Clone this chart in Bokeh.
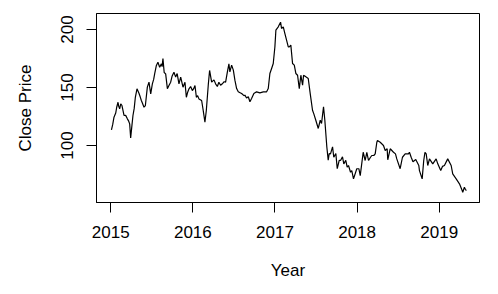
from bokeh.plotting import figure
from bokeh.models import Range1d, FixedTicker
from bokeh.embed import file_html
from bokeh.resources import INLINE

# decimal year and close price
year = [
    2015.009, 2015.024, 2015.040, 2015.061, 2015.073, 2015.089, 2015.097, 2015.109, 2015.122, 2015.137,
    2015.150, 2015.162, 2015.182, 2015.203, 2015.219, 2015.231, 2015.243, 2015.255, 2015.271, 2015.286,
    2015.300, 2015.320, 2015.344, 2015.359, 2015.373, 2015.389, 2015.405, 2015.422, 2015.446, 2015.466,
    2015.487, 2015.507, 2015.523, 2015.535, 2015.556, 2015.575, 2015.596, 2015.617, 2015.626, 2015.636,
    2015.651, 2015.669, 2015.690, 2015.709, 2015.730, 2015.748, 2015.770, 2015.791, 2015.809, 2015.831,
    2015.852, 2015.880, 2015.904, 2015.921, 2015.937, 2015.953, 2015.973, 2015.994, 2016.010, 2016.026,
    2016.043, 2016.058, 2016.074, 2016.107, 2016.123, 2016.135, 2016.147, 2016.164, 2016.189, 2016.204,
    2016.229, 2016.257, 2016.277, 2016.298, 2016.317, 2016.338, 2016.359, 2016.381, 2016.399, 2016.420,
    2016.439, 2016.451, 2016.472, 2016.493, 2016.512, 2016.533, 2016.553, 2016.575, 2016.594, 2016.622,
    2016.634, 2016.654, 2016.675, 2016.695, 2016.715, 2016.743, 2016.776, 2016.816, 2016.858, 2016.898,
    2016.918, 2016.938, 2016.959, 2016.979, 2016.999, 2017.011, 2017.040, 2017.060, 2017.068, 2017.080,
    2017.101, 2017.120, 2017.141, 2017.162, 2017.174, 2017.193, 2017.214, 2017.235, 2017.254, 2017.275,
    2017.296, 2017.315, 2017.336, 2017.348, 2017.376, 2017.405, 2017.429, 2017.457, 2017.473, 2017.497,
    2017.527, 2017.551, 2017.567, 2017.591, 2017.607, 2017.631, 2017.648, 2017.660, 2017.676, 2017.701,
    2017.716, 2017.741, 2017.758, 2017.782, 2017.798, 2017.822, 2017.838, 2017.862, 2017.879, 2017.895,
    2017.920, 2017.935, 2017.956, 2017.996, 2018.021, 2018.038, 2018.074, 2018.098, 2018.118, 2018.139,
    2018.163, 2018.179, 2018.203, 2018.220, 2018.240, 2018.248, 2018.281, 2018.321, 2018.342, 2018.366,
    2018.373, 2018.403, 2018.443, 2018.467, 2018.483, 2018.524, 2018.552, 2018.585, 2018.625, 2018.637,
    2018.658, 2018.680, 2018.714, 2018.751, 2018.759, 2018.792, 2018.811, 2018.826, 2018.841, 2018.860,
    2018.881, 2018.921, 2018.962, 2018.982, 2019.018, 2019.039, 2019.063, 2019.103, 2019.145, 2019.164,
    2019.206, 2019.246, 2019.279, 2019.286, 2019.306, 2019.319, 2019.331,
]
close = [
    113.5, 118.0, 124.4, 128.0, 133.0, 137.3, 134.0, 131.6, 136.0, 134.5,
    130.0, 125.9, 126.0, 123.0, 121.0, 118.7, 106.6, 115.0, 125.9, 132.0,
    141.6, 148.9, 145.1, 142.0, 138.8, 136.0, 133.0, 134.5, 150.3, 154.6,
    144.6, 153.2, 157.0, 161.8, 169.0, 171.8, 167.5, 170.4, 168.0, 175.0,
    163.0, 161.8, 149.0, 151.7, 154.6, 160.0, 163.2, 159.0, 162.0, 153.2,
    159.0, 150.3, 154.6, 141.6, 146.0, 148.9, 150.9, 147.4, 149.0, 151.7,
    141.6, 143.0, 140.2, 138.8, 131.7, 126.0, 120.1, 130.2, 153.2, 164.7,
    154.6, 156.6, 153.2, 150.9, 154.6, 152.0, 153.2, 155.0, 154.6, 163.2,
    170.4, 163.5, 169.3, 165.0, 156.3, 149.1, 146.3, 145.5, 144.8, 143.0,
    143.4, 141.0, 142.0, 137.7, 140.5, 144.8, 146.3, 145.4, 146.3, 146.3,
    149.1, 162.1, 166.4, 170.7, 185.1, 199.4, 202.3, 205.2, 206.3, 200.9,
    202.3, 196.6, 190.8, 185.1, 185.1, 186.5, 170.7, 169.3, 162.1, 160.6,
    149.1, 160.6, 152.0, 160.6, 159.2, 157.8, 144.8, 130.4, 127.3, 121.8,
    114.7, 121.8, 119.0, 133.4, 121.8, 98.9, 87.3, 93.1, 92.8, 98.9,
    89.9, 93.1, 80.0, 87.3, 87.1, 90.2, 84.2, 87.3, 81.3, 82.8,
    77.0, 78.4, 71.3, 80.0, 80.0, 74.1, 94.2, 87.1, 94.2, 87.1,
    89.9, 91.4, 91.4, 92.8, 102.8, 104.3, 102.8, 100.0, 95.7, 97.2,
    87.7, 97.2, 94.2, 92.8, 88.5, 80.0, 89.9, 92.8, 92.8, 94.2,
    89.9, 86.0, 88.0, 82.8, 78.4, 71.3, 87.1, 94.2, 92.8, 82.8,
    88.5, 84.2, 88.5, 84.2, 78.4, 82.0, 82.8, 88.5, 82.8, 75.6,
    71.3, 67.0, 61.2, 59.7, 64.0, 62.0, 61.2,
]
x_ticks = [2015, 2016, 2017, 2018, 2019]
y_ticks = [100, 150, 200]

FONT = "Liberation Sans"

p = figure(width=490, height=286, output_backend="svg", toolbar_location=None,
           x_range=Range1d(2014.827, 2019.49), y_range=Range1d(50.9, 213.8),
           min_border_left=96, min_border_right=11, min_border_top=13, min_border_bottom=84)
p.background_fill_color = "white"
p.border_fill_color = "white"
p.outline_line_color = "black"
p.outline_line_alpha = 1.0
p.outline_line_width = 1
p.xgrid.visible = False
p.ygrid.visible = False

p.line(year, close, line_color="black", line_width=1.2)

for ax in (p.xaxis[0], p.yaxis[0]):
    ax.axis_line_color = "black"
    ax.major_tick_line_color = "black"
    ax.major_tick_out = 10
    ax.major_tick_in = 0
    ax.minor_tick_line_color = None
    ax.major_label_text_font = FONT
    ax.major_label_text_font_size = "17px"
    ax.major_label_text_color = "black"
    ax.axis_label_text_font = FONT
    ax.axis_label_text_font_size = "17px"
    ax.axis_label_text_font_style = "normal"
    ax.axis_label_text_color = "black"
    ax.major_label_standoff = 13

p.xaxis.ticker = FixedTicker(ticks=x_ticks)
p.yaxis.ticker = FixedTicker(ticks=y_ticks)
p.xaxis.axis_label = "Year"
p.yaxis.axis_label = "Close Price"
p.yaxis.major_label_orientation = "vertical"
p.xaxis.axis_label_standoff = 20
p.yaxis.axis_label_standoff = 24

open("out.html", "w").write(file_html(p, INLINE))
